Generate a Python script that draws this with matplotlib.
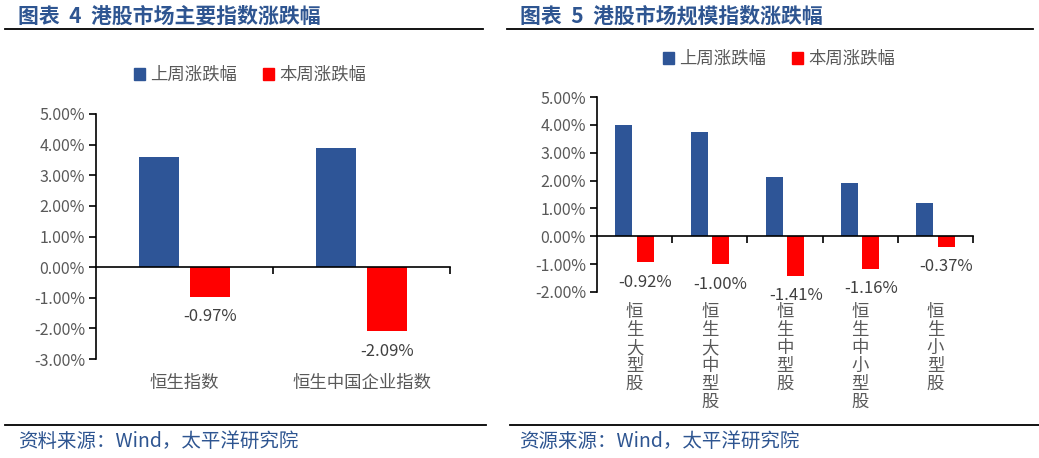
import matplotlib
matplotlib.use("Agg")
import matplotlib.pyplot as plt
from matplotlib.patches import Patch
from matplotlib.ticker import FuncFormatter, FixedLocator
from matplotlib.lines import Line2D

plt.rcParams['font.family'] = ['Noto Sans CJK SC', 'DejaVu Sans']

# data
left_cats = ["恒生指数", "恒生中国企业指数"]
left_last = [3.60, 3.89]
left_this = [-0.97, -2.09]

right_cats = ["恒生大型股", "恒生大中型股", "恒生中型股", "恒生中小型股", "恒生小型股"]
right_last = [4.00, 3.73, 2.14, 1.92, 1.20]
right_this = [-0.92, -1.00, -1.41, -1.16, -0.37]

series_names = ["上周涨跌幅", "本周涨跌幅"]
BLUE = "#2E5597"
RED = "#FF0000"
GRAY = "#595959"
TITLE_C = "#2E5591"

W, H = 1039, 458
fig = plt.figure(figsize=(W / 100, H / 100), dpi=100)


def fx(px):
    return px / W


def fy(py):
    return 1 - py / H


def panel(rect, cats, last, this, ylim, label_pad, vertical):
    ax = fig.add_axes(rect)
    n = len(cats)
    xs = list(range(n))
    bw = 0.226
    off = 0.143
    ax.bar([x - off for x in xs], last, width=bw, color=BLUE, zorder=2)
    ax.bar([x + off for x in xs], this, width=bw, color=RED, zorder=2)
    for x, v in zip(xs, this):
        ax.annotate(f"{v:.2f}%", (x + off, v), xytext=(0, -14.5),
                    textcoords="offset points", ha="center", va="center",
                    fontsize=12, color="#404040")
    ax.set_xlim(-0.5, n - 0.5)
    ax.set_ylim(*ylim)
    ax.set_yticks(range(ylim[0], ylim[1] + 1))
    ax.yaxis.set_major_formatter(FuncFormatter(lambda v, p: f"{v:.2f}%"))
    ax.tick_params(axis="y", direction="out", length=5, width=1.2,
                   labelsize=11.5, labelcolor=GRAY, color="black", pad=3)
    for s in ["top", "right"]:
        ax.spines[s].set_visible(False)
    ax.spines["left"].set_linewidth(1.2)
    ax.spines["bottom"].set_position(("data", 0))
    ax.spines["bottom"].set_linewidth(1.2)
    ax.set_xticks(xs)
    if vertical:
        ax.set_xticklabels(["\n".join(c) for c in cats], linespacing=1.0)
    else:
        ax.set_xticklabels(cats)
    ax.xaxis.set_minor_locator(FixedLocator([i + 0.5 for i in range(n)]))
    ax.tick_params(axis="x", which="major", length=0, pad=label_pad,
                   labelsize=12.5, labelcolor=GRAY)
    ax.tick_params(axis="x", which="minor", direction="out", length=5,
                   width=1.2, color="black")
    for t in ax.get_xticklabels():
        t.set_va("top")
    return ax


# left panel
panel([fx(96), fy(359), fx(450 - 96), (359 - 114) / H],
      left_cats, left_last, left_this, (-3, 5), 77, False)
# right panel
panel([fx(597), fy(292), fx(973 - 597), (292 - 97) / H],
      right_cats, right_last, right_this, (-2, 5), 48, True)

handles = [Patch(color=BLUE, label=series_names[0]),
           Patch(color=RED, label=series_names[1])]
for cx, cy in [(250, 75), (779, 59)]:
    fig.legend(handles=handles, loc="center", bbox_to_anchor=(fx(cx), fy(cy)),
               ncol=2, frameon=False, fontsize=12.5, labelcolor=GRAY,
               handlelength=0.65, handleheight=0.65, handletextpad=0.3,
               columnspacing=1.5)

# titles, rules, sources
fig.text(fx(18), fy(16), "图表  4  港股市场主要指数涨跌幅", fontsize=15,
         fontweight="bold", color=TITLE_C, va="center", ha="left")
fig.text(fx(520), fy(16), "图表  5  港股市场规模指数涨跌幅", fontsize=15,
         fontweight="bold", color=TITLE_C, va="center", ha="left")
for x0, x1, y in [(5, 483, 29), (507, 1033, 29), (5, 486, 425), (510, 1039, 425)]:
    fig.add_artist(Line2D([fx(x0), fx(x1)], [fy(y), fy(y)], color="black", lw=1.3))
fig.text(fx(18), fy(441), "资料来源：Wind，太平洋研究院", fontsize=14,
         color=TITLE_C, va="center", ha="left")
fig.text(fx(519), fy(441), "资源来源：Wind，太平洋研究院", fontsize=14,
         color=TITLE_C, va="center", ha="left")

fig.savefig("out.png", dpi=100)
